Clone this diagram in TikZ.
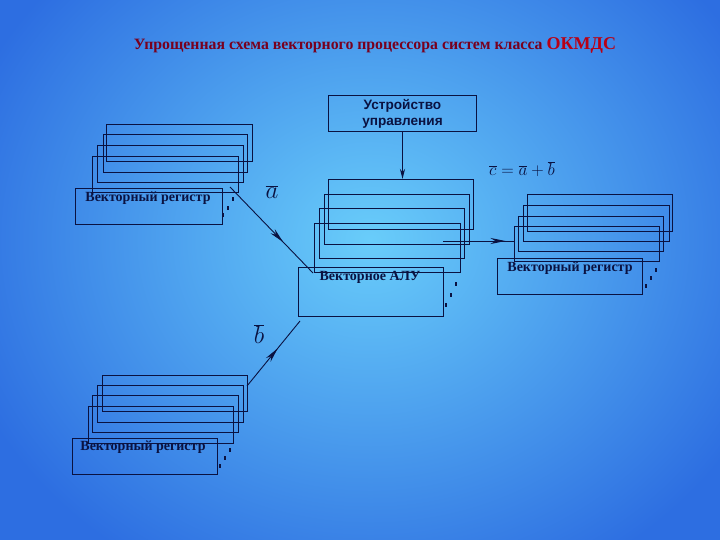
\documentclass[tikz,border=0pt]{standalone}
\usepackage{fontspec}
\setmainfont{Liberation Serif}
\newfontfamily\arialf{Liberation Sans}
\usetikzlibrary{decorations.markings,arrows.meta}
\definecolor{ln}{RGB}{10,18,65}
\definecolor{bgin}{RGB}{105,205,250}
\definecolor{bgout}{RGB}{45,110,225}
\definecolor{ttl}{RGB}{120,0,30}
\definecolor{ttlr}{RGB}{185,0,20}
\tikzset{
  reg/.style={draw=ln, line width=1pt, anchor=north west, inner sep=0pt},
  regtxt/.style={font=\bfseries\fontsize{14}{16}\selectfont, text=ln, inner sep=0pt},
  midarrow/.style={decoration={markings, mark=at position #1 with {\arrow{Stealth[length=15pt,width=6pt]}}}, postaction=decorate},
  link/.style={draw=ln, line width=0.9pt},
  dotm/.style={rectangle, fill=ln, inner sep=0pt, minimum width=2.2pt, minimum height=3.2pt},
  vlabel/.style={inner sep=0pt, text=ln}
}
\newcommand\regbox[5]{\node[reg, minimum width={#4-#2}, minimum height={#5-#3}] (#1) at (#2,#3) {};}
\begin{document}
\begin{tikzpicture}[x=1pt,y=-1pt]
\useasboundingbox (0,0) rectangle (720,540);
\shade[inner color=bgin, outer color=bgout] (-60,-140) rectangle (800,620);
% title
\node[inner sep=0pt, text=ttl, font=\bfseries\fontsize{15.8}{18}\selectfont] (title) at (375,45)
  {Упрощенная схема векторного процессора систем класса \textcolor{ttlr}{\fontsize{18}{18}\selectfont ОКМДС}};
% control unit
\regbox{cu}{328}{95}{476}{131}
\node[inner sep=0pt, align=center, text=ln, font=\arialf\bfseries\fontsize{13.6}{16}\selectfont] (cut) at (cu.center) {Устройство\\управления};
% top-left register stack
\regbox{ra1}{106}{124}{252}{161}
\regbox{ra2}{103}{134}{247}{172}
\regbox{ra3}{97}{145}{243}{182}
\regbox{ra4}{92}{156}{238}{192}
\regbox{ra}{75}{188}{222}{224}
\node[regtxt] (rat) at (148,198) {Векторный регистр};
\node[dotm] (da1) at (233,199) {};
\node[dotm] (da2) at (228,208) {};
\node[dotm] (da3) at (223,215) {};
% ALU stack
\regbox{al1}{328}{179}{473}{229}
\regbox{al2}{324}{194}{469}{244}
\regbox{al3}{319}{208}{464}{258}
\regbox{al4}{314}{223}{460}{272}
\regbox{alu}{298}{267}{443}{316}
\node[regtxt] (alut) at (370,277) {Векторное АЛУ};
\node[dotm] (dl1) at (456,284) {};
\node[dotm] (dl2) at (451,295) {};
\node[dotm] (dl3) at (446,305) {};
% right register stack
\regbox{rc1}{527}{194}{672}{231}
\regbox{rc2}{523}{205}{669}{241}
\regbox{rc3}{518}{216}{663}{251}
\regbox{rc4}{514}{226}{659}{261}
\regbox{rc}{497}{258}{642}{294}
\node[regtxt] (rct) at (570,268) {Векторный регистр};
\node[dotm] (dc1) at (656,270) {};
\node[dotm] (dc2) at (651,278) {};
\node[dotm] (dc3) at (646,286) {};
% bottom register stack
\regbox{rb1}{102}{375}{247}{411}
\regbox{rb2}{97}{385}{243}{422}
\regbox{rb3}{92}{395}{238}{432}
\regbox{rb4}{88}{406}{233}{443}
\regbox{rb}{72}{438}{217}{474}
\node[regtxt] (rbt) at (143,447) {Векторный регистр};
\node[dotm] (db1) at (230,450) {};
\node[dotm] (db2) at (225,458) {};
\node[dotm] (db3) at (220,466) {};
% labels
\node[vlabel, font=\fontsize{25}{25}\selectfont] (la) at (272,192) {$\overline{a}$};
\node[vlabel, font=\fontsize{25}{25}\selectfont] (lb) at (259,334) {$\overline{b}$};
\node[vlabel, font=\fontsize{17}{17}\selectfont] (lc) at (522,169) {$\overline{c}=\overline{a}+\overline{b}$};
% connectors
\coordinate (aS) at (230,187);
\coordinate (aE) at (313,273);
\draw[link, midarrow=0.64] (aS) -- (aE);
\coordinate (bS) at (247,386);
\coordinate (bE) at (300,321);
\draw[link, midarrow=0.58] (bS) -- (bE);
\coordinate (hS) at (443,241);
\coordinate (hE) at (514,241);
\draw[link, midarrow=0.88] (hS) -- (hE);
\draw[draw=ln, line width=1.8pt, -{Stealth[length=10pt,width=5pt]}] (cu.south) -- (al1.north -| cu.south);
\end{tikzpicture}
\end{document}
